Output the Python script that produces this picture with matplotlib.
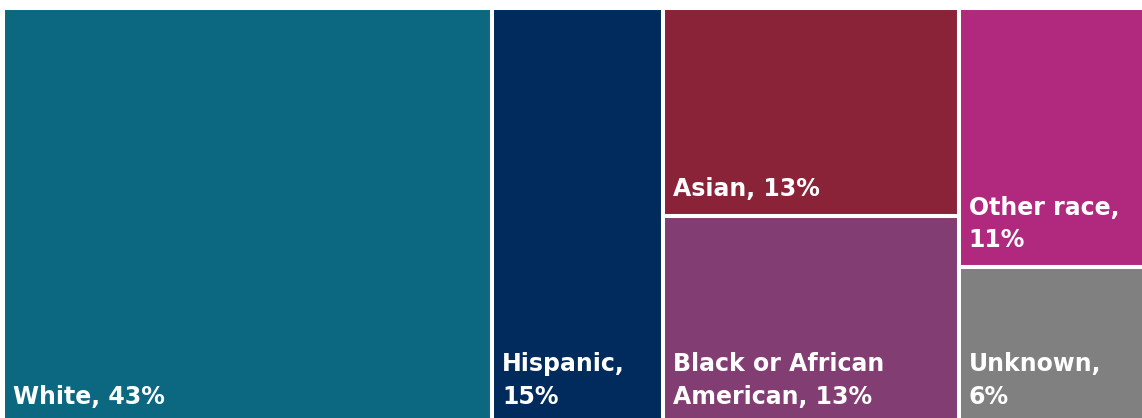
import matplotlib.pyplot as plt
from matplotlib.patches import Rectangle

# treemap data (percent share), grouped into columns as in the original layout
categories = ["White", "Hispanic", "Asian", "Black or African\nAmerican", "Other race", "Unknown"]
values = [43.0, 15.0, 13.0, 13.0, 10.6, 6.4]
labels = ["White, 43%", "Hispanic,\n15%", "Asian, 13%", "Black or African\nAmerican, 13%",
          "Other race,\n11%", "Unknown,\n6%"]
columns = [[0], [1], [2, 3], [4, 5]]
colors = ["#0C6880", "#002B5C", "#8A2338", "#823E72", "#B1297F", "#808080"]

W, H = 1142, 418
fig = plt.figure(figsize=(W / 100, H / 100), dpi=100)
# axes extends past right/bottom edge: the reference is cropped there
ax = fig.add_axes([3 / W, -6 / H, 1149 / W, 416 / H])
total = sum(values)
ax.set_xlim(0, total)
ax.set_ylim(1, 0)
ax.axis("off")

x0 = 0.0
for col in columns:
    col_sum = sum(values[i] for i in col)
    y0 = 0.0
    for i in col:
        h = values[i] / col_sum
        ax.add_patch(Rectangle((x0, y0), col_sum, h, facecolor=colors[i],
                               edgecolor="white", linewidth=2.9))
        ax.annotate(labels[i], xy=(x0, y0 + h), xytext=(10, 15), textcoords="offset pixels",
                    ha="left", va="bottom", color="white", fontsize=17, fontweight="bold",
                    linespacing=1.45, family=["DejaVu Sans"])
        y0 += h
    x0 += col_sum

fig.savefig("out.png", dpi=100)
